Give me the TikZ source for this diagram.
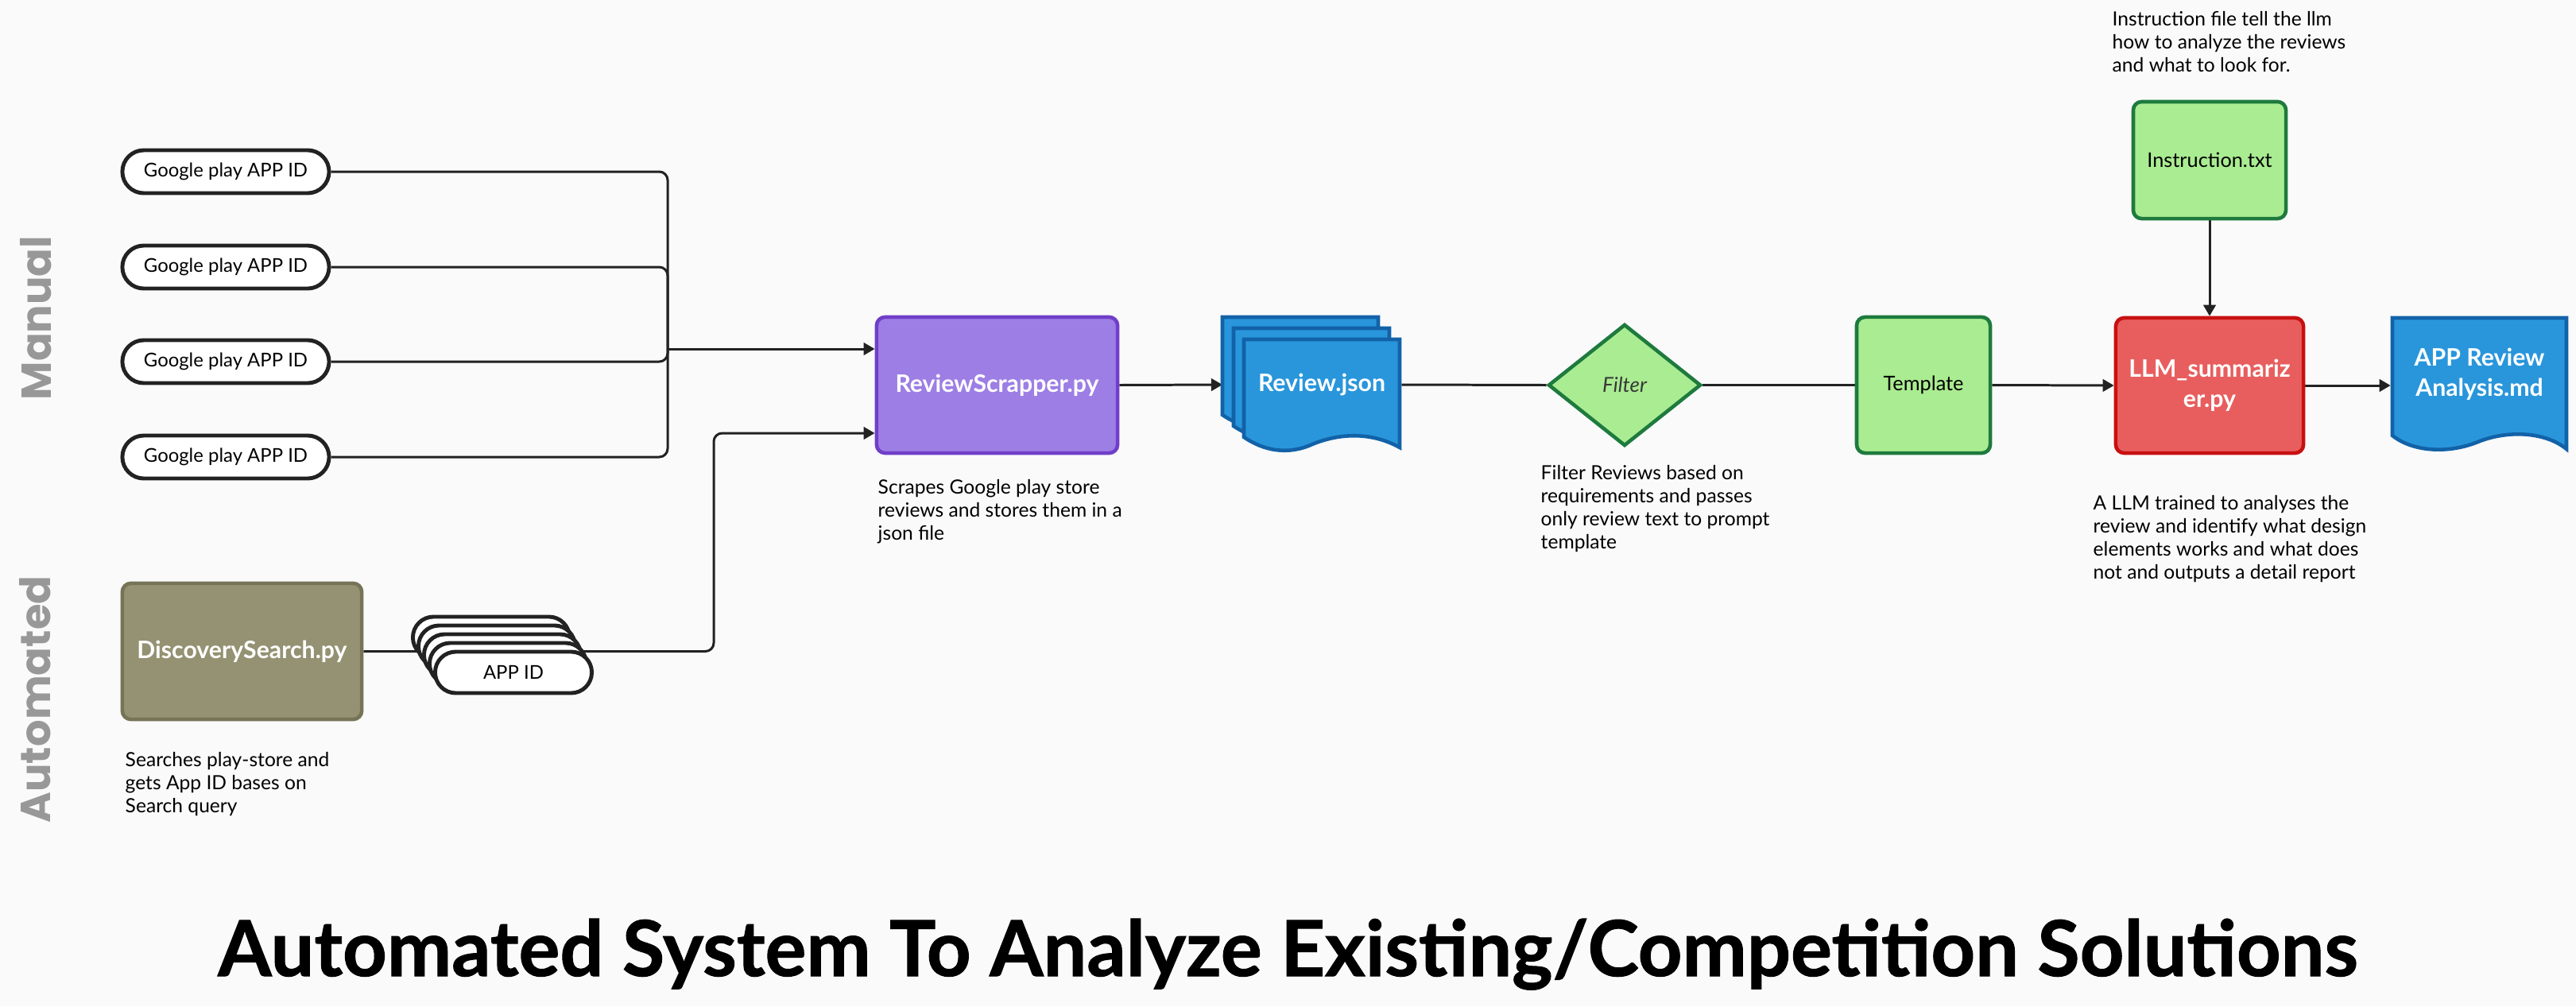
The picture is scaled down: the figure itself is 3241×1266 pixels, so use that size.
\documentclass[tikz,border=0pt]{standalone}
\usepackage{fontspec}
\setmainfont{Lato}
\newfontfamily\headfont{Poppins}
\usetikzlibrary{arrows.meta,shapes.geometric,shapes.misc,backgrounds}

\definecolor{bgcol}{RGB}{250,250,250}
\definecolor{linecol}{RGB}{34,34,34}
\definecolor{scrapfill}{RGB}{157,126,229}
\definecolor{scrapdraw}{RGB}{112,62,200}
\definecolor{olivefill}{RGB}{148,146,114}
\definecolor{olivedraw}{RGB}{118,116,86}
\definecolor{bluefill}{RGB}{41,150,219}
\definecolor{bluedraw}{RGB}{18,98,168}
\definecolor{greenfill}{RGB}{170,236,145}
\definecolor{greendraw}{RGB}{30,122,62}
\definecolor{redfill}{RGB}{232,94,94}
\definecolor{reddraw}{RGB}{200,16,16}
\definecolor{sidegray}{RGB}{152,152,152}

\tikzset{
  line/.style={draw=linecol, line width=0.85pt, rounded corners=3pt},
  arr/.style={line, -{Triangle[length=4pt,width=4.4pt]}},
  pill/.style={rounded rectangle, draw=linecol, fill=white, line width=1.4pt,
    minimum width=2.6cm, minimum height=0.54cm, inner sep=0pt, font=\fontsize{6.8}{8}\selectfont},
  procbox/.style={rectangle, rounded corners=3pt, line width=1.3pt, inner sep=2pt,
    font=\fontsize{8.6}{10.8}\selectfont\bfseries, text=white, align=center},
  greenbox/.style={rectangle, rounded corners=3pt, line width=1.3pt, draw=greendraw,
    fill=greenfill, font=\fontsize{7.2}{8}\selectfont},
  note/.style={anchor=north west, inner sep=0pt, align=left, font=\fontsize{7}{8.25}\selectfont},
  side/.style={rotate=90, text=sidegray, font=\headfont\fontsize{15}{18}\selectfont\bfseries},
  page/.style={draw=bluedraw, fill=bluefill, line width=1.3pt}
}

\newcommand\reviewpage[2]{%
  \begin{scope}[shift={(#1,#2)}]
    \draw[page] (0,0) -- (196,0) -- (196,136) .. controls (160,116) and (120,118) .. (86,132)
      .. controls (55,146) and (25,140) .. (0,123) -- cycle;
  \end{scope}}

\begin{document}
\begin{tikzpicture}[x=0.01cm, y=-0.01cm]
  \useasboundingbox (0,0) rectangle (3241,1266);

  \node[side] (manual) at (45,400) {Manual};
  \node[side] (auto) at (44,880) {Automated};

  \foreach \y/\n in {216/1,336/2,455/3,575/4}
    \node[pill] (g\n) at (284,\y) {Google play APP ID};

  \node[procbox, draw=olivedraw, fill=olivefill, minimum width=3.01cm, minimum height=1.71cm]
    (disc) at (304.5,819.5) {DiscoverySearch.py};
  \node[note] (discnote) at (157,946) {Searches play-store and\\gets App ID bases on\\Search query};

  \foreach \k in {4,...,1}
    \node[pill, minimum width=1.97cm, minimum height=0.52cm] at ({646-7*\k},{846-11*\k}) {};
  \node[pill, minimum width=1.97cm, minimum height=0.52cm] (appid) at (646,846) {APP ID};

  \node[procbox, draw=scrapdraw, fill=scrapfill, minimum width=3.03cm, minimum height=1.71cm]
    (scrap) at (1254.5,484.5) {ReviewScrapper.py};
  \node[note] (scrapnote) at (1104,603) {Scrapes Google play store\\reviews and stores them in a\\json file};

  \reviewpage{1538}{399}
  \reviewpage{1552}{413}
  \reviewpage{1565}{427}
  \node[procbox, minimum width=1.96cm] (review) at (1663,484) {Review.json};
  \coordinate (reviewin) at (1538,484);

  \node[diamond, aspect=1.25, inner sep=0pt, draw=greendraw, fill=greenfill, line width=1.3pt,
    minimum width=1.92cm, minimum height=1.53cm, font=\fontsize{7.4}{8}\selectfont\itshape,
    text=linecol!90] (filter) at (2044,484.5) {Filter};
  \node[note] (filternote) at (1938,585) {Filter Reviews based on\\requirements and passes\\only review text to prompt\\template};

  \node[greenbox, minimum width=1.68cm, minimum height=1.71cm] (template) at (2420,484.5) {Template};

  \node[greenbox, minimum width=1.92cm, minimum height=1.47cm] (instr) at (2780,201.5) {Instruction.txt};
  \node[note] (instrnote) at (2657,14) {Instruction file tell the llm\\how to analyze the reviews\\and what to look for.};

  \node[procbox, draw=reddraw, fill=redfill, minimum width=2.36cm, minimum height=1.70cm]
    (llm) at (2780,485) {LLM\_summariz\\er.py};
  \node[note] (llmnote) at (2633,623) {A LLM trained to analyses the\\review and identify what design\\elements works and what does\\not and outputs a detail report};

  \begin{scope}[shift={(3010,400)}]
    \draw[page] (0,0) -- (219,0) -- (219,165) .. controls (195,145) and (150,140) .. (110,155)
      .. controls (70,172) and (25,168) .. (0,148) -- cycle;
  \end{scope}
  \node[procbox, minimum width=2.19cm] (mdfile) at (3119.5,471) {APP Review\\Analysis.md};

  \node[font=\fontsize{27.6}{32}\selectfont\bfseries\addfontfeature{FakeBold=1}, anchor=base] (title) at (1620,1228)
    {Automated System To Analyze Existing/Competition Solutions};

  \begin{scope}[on background layer]
    \fill[bgcol] (0,0) rectangle (3241,1266);
    \coordinate (jA) at (840,439);
    \coordinate (jB) at (898,545);
    \foreach \n in {1,...,4}
      \draw[line] (g\n.east) -| (jA);
    \draw[arr] (jA) -- (jA -| scrap.west);
    \draw[arr] (disc.east) -- (jB |- disc.east) -- (jB) -- (jB -| scrap.west);
    \draw[arr] (scrap.east) -- (reviewin);
    \draw[line] (review.east) -- (filter.west);
    \draw[line] (filter.east) -- (template.west);
    \draw[arr] (template.east) -- (llm.west);
    \draw[arr] (instr.south) -- (llm.north);
    \draw[arr] (llm.east) -- (llm.east -| mdfile.west);
  \end{scope}
\end{tikzpicture}
\end{document}
